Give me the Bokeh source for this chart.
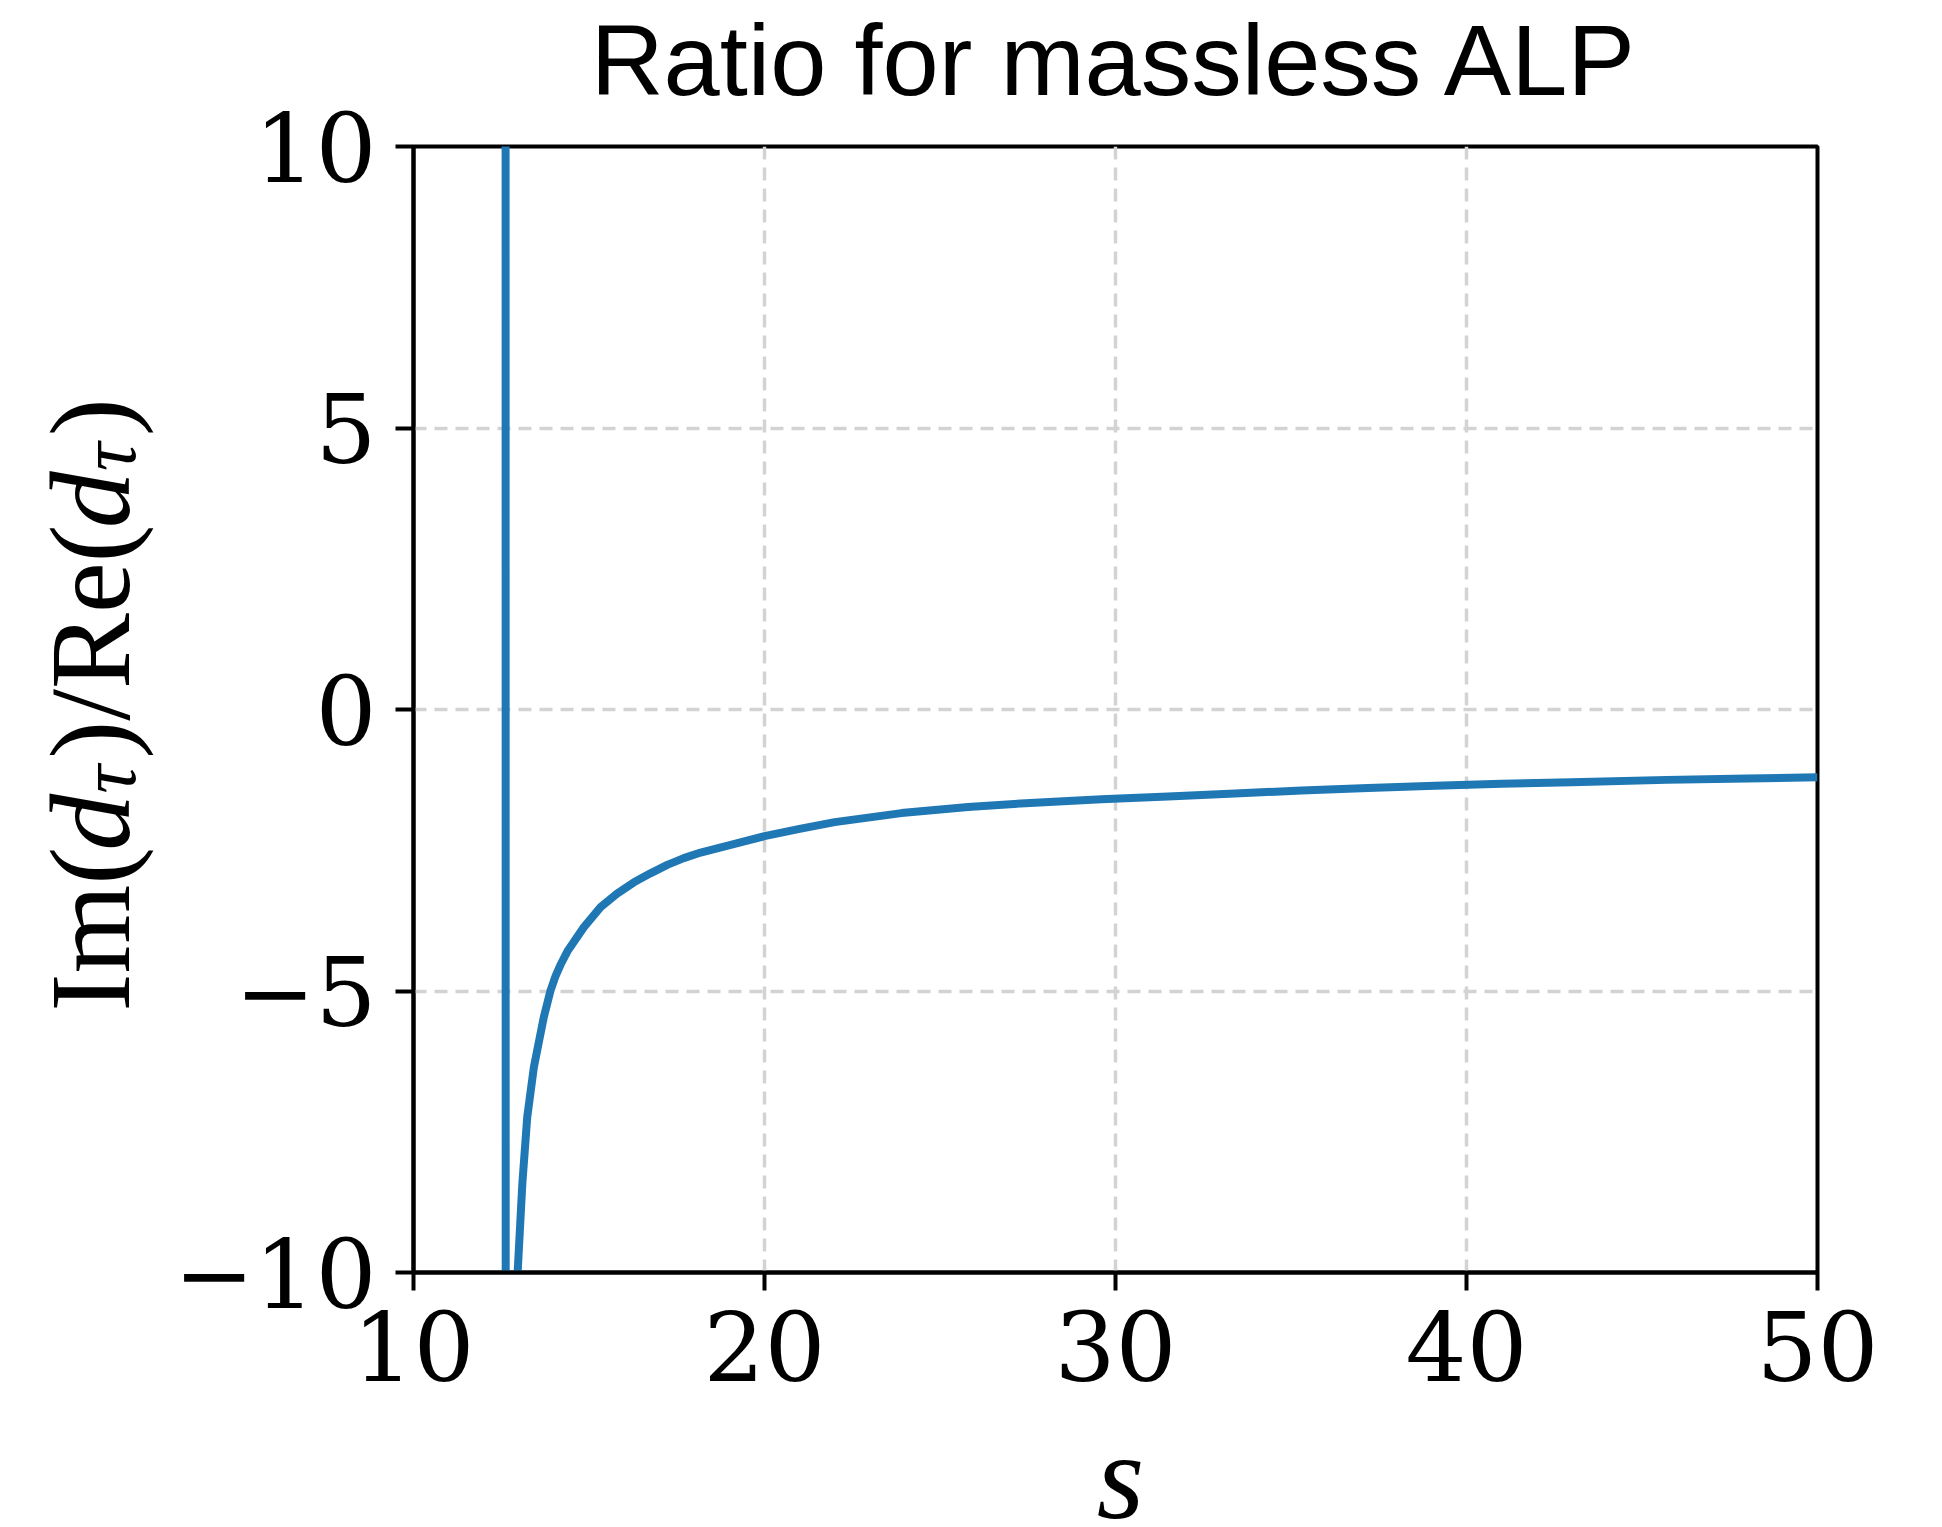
import numpy as np
from bokeh.plotting import figure
from bokeh.models import Label, Range1d, LinearAxis, FixedTicker
from bokeh.layouts import row, column
from bokeh.embed import file_html
from bokeh.resources import INLINE

# ---- data ----
s_vals = [12.62, 12.63, 12.90, 12.97, 13.10, 13.24, 13.43, 13.71, 13.90, 14.05,
          14.20, 14.40, 14.85, 15.33, 15.80, 16.28, 16.75, 17.23, 17.70, 18.18,
          19.12, 20.0, 21.0, 22.0, 23.9, 25.8, 27.7, 29.6, 31.5, 33.4,
          35.3, 37.2, 39.1, 41.0, 43.0, 45.7, 48.0, 50.0]
ratio_vals = [40.0, -40.0, -14.0, -9.96, -8.43, -7.24, -6.35, -5.47, -5.00, -4.73,
              -4.52, -4.28, -3.87, -3.51, -3.27, -3.07, -2.91, -2.76, -2.64, -2.54,
              -2.39, -2.25, -2.12, -2.00, -1.84, -1.73, -1.655, -1.595, -1.545, -1.49,
              -1.44, -1.395, -1.355, -1.32, -1.29, -1.25, -1.225, -1.205]

x_ticks = [10, 20, 30, 40, 50]
x_tick_labels = ["10", "20", "30", "40", "50"]
y_ticks = [-10, -5, 0, 5, 10]
y_tick_labels = ["\u221210", "\u22125", "0", "5", "10"]
title_text = "Ratio for massless ALP"
x_label_text = "s"
# y label pieces: (text, style, is_subscript)
y_label_parts = [("Im(", "normal", False), ("d", "italic", False), ("\u03c4", "italic", True),
                 (")/Re(", "normal", False), ("d", "italic", False), ("\u03c4", "italic", True),
                 (")", "normal", False)]

W_TOTAL, H_TOTAL = 1942, 1527
YLAB_W = 160
XLAB_H = 100
MAIN_W = W_TOTAL - YLAB_W
MAIN_H = H_TOTAL - XLAB_H
FR_LEFT, FR_RIGHT, FR_TOP, FR_BOTTOM = 413, 1817, 146, 1272
CENTER_X = 30  # centre of the x range, where the title sits

p = figure(width=MAIN_W, height=MAIN_H,
           x_range=Range1d(10, 50), y_range=Range1d(-10, 10),
           output_backend="svg", toolbar_location=None, title_location=None,
           min_border_left=FR_LEFT - YLAB_W, min_border_right=W_TOTAL - FR_RIGHT,
           min_border_top=FR_TOP, min_border_bottom=MAIN_H - FR_BOTTOM)

p.background_fill_color = "white"
p.border_fill_color = "white"
p.outline_line_color = "black"
p.outline_line_width = 4

for ax, ticks, labels in ((p.xaxis[0], x_ticks, x_tick_labels), (p.yaxis[0], y_ticks, y_tick_labels)):
    ax.ticker = ticks
    ax.major_label_overrides = dict(zip(ticks, labels))
    ax.axis_line_color = "black"
    ax.axis_line_width = 4
    ax.major_tick_line_color = "black"
    ax.major_tick_line_width = 4
    ax.major_tick_in = 0
    ax.major_tick_out = 18
    ax.minor_tick_line_color = None
    ax.major_label_text_font = "DejaVu Serif"
    ax.major_label_text_font_size = "96px"
    ax.major_label_text_color = "black"

p.xaxis[0].major_label_standoff = 20
p.yaxis[0].major_label_standoff = 19

# title above the frame (an unticked axis carrying one label)
title_axis = LinearAxis(ticker=FixedTicker(ticks=[CENTER_X]),
                        major_label_overrides={CENTER_X: title_text},
                        axis_line_color=None, major_tick_line_color=None,
                        minor_tick_line_color=None, major_tick_in=0, major_tick_out=0,
                        minor_tick_in=0, minor_tick_out=0, major_label_standoff=31,
                        major_label_text_font="Liberation Sans", major_label_text_font_size="101px",
                        major_label_text_font_style="normal", major_label_text_color="black")
p.add_layout(title_axis, "above")

for g in (p.xgrid, p.ygrid):
    g.grid_line_color = "#d3d3d3"
    g.grid_line_width = 3.5
    g.grid_line_dash = "13 8"

p.line(s_vals, ratio_vals, line_color="#1f77b4", line_width=8, line_join="round")


def blank(w, h, **kw):
    f = figure(width=w, height=h, x_axis_type=None, y_axis_type=None, output_backend="svg",
               toolbar_location=None, title_location=None, **kw)
    f.outline_line_color = None
    f.background_fill_color = "white"
    f.border_fill_color = "white"
    return f


# ---- y label (composed so that the tau subscripts can be shown) ----
ylab = blank(YLAB_W, MAIN_H,
             x_range=Range1d(0, YLAB_W), y_range=Range1d(MAIN_H - FR_BOTTOM, MAIN_H - FR_TOP),
             min_border_left=0, min_border_right=0,
             min_border_top=FR_TOP, min_border_bottom=MAIN_H - FR_BOTTOM)

F = 114
widths = {"Im(": 1.41, "d": 0.50, "\u03c4": 0.44 * 0.7, ")/Re(": 2.02, ")": 0.333}
pos = MAIN_H - 1011.0
for txt, style, sub in y_label_parts:
    size = F * 0.7 if sub else F
    ylab.add_layout(Label(x=90 + (17 if sub else 0), y=pos,
                          angle=np.pi / 2, angle_units="rad", text=txt,
                          text_font="Liberation Serif", text_font_size=f"{size:.0f}px",
                          text_font_style=style, text_align="left", text_baseline="alphabetic",
                          text_color="black"))
    pos += widths[txt] * F

# ---- x label strip below ----
xlab = blank(W_TOTAL, XLAB_H, x_range=Range1d(0, W_TOTAL), y_range=Range1d(0, XLAB_H),
             min_border=0)
xlab.add_layout(Label(x=1120, y=XLAB_H - (1517 - MAIN_H) + 41, text=x_label_text,
                      text_font="Liberation Serif", text_font_size="122px", text_font_style="italic",
                      text_align="center", text_baseline="alphabetic", text_color="black"))

layout = column(row(ylab, p, spacing=0), xlab, spacing=0)

open("out.html", "w").write(file_html(layout, INLINE))
